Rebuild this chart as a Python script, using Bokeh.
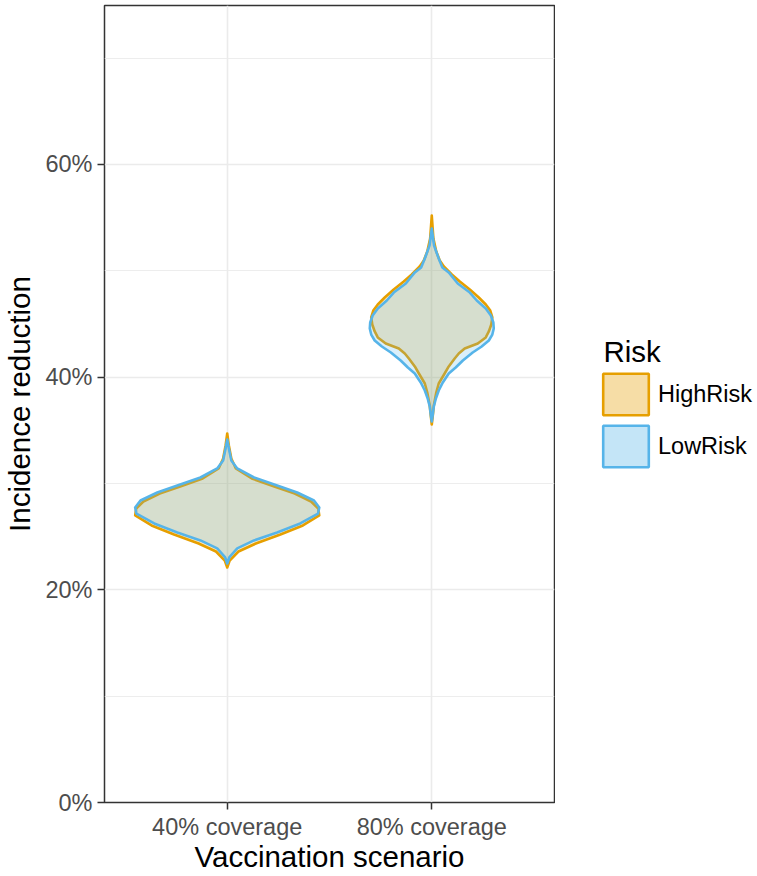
from bokeh.plotting import figure
from bokeh.layouts import row
from bokeh.models import (Range1d, FixedTicker, PrintfTickFormatter,
                          Legend, LegendItem, Label)
from bokeh.embed import file_html
from bokeh.resources import INLINE

# ---------------- data ----------------
SCENARIOS = ["40% coverage", "80% coverage"]
SCENARIO_POS = [1, 2]
RISKS = ["HighRisk", "LowRisk"]
RISK_COLORS = ["#E69F00", "#56B4E9"]

Y_TICKS = [0, 20, 40, 60]
Y_MINOR = [10, 30, 50, 70]

# violin outlines: incidence reduction (%) and
# half-width of the violin (in category units), from top tip to bottom tip
HR40_Y = [34.70, 33.57, 32.35, 31.41, 30.47, 29.71, 29.05, 28.30, 27.64, 26.99,
          26.05, 25.20, 24.35, 23.60, 22.75, 22.10]
HR40_W = [0.000, 0.008, 0.020, 0.042, 0.120, 0.230, 0.330, 0.410, 0.445, 0.450,
          0.370, 0.260, 0.140, 0.055, 0.012, 0.000]

LR40_Y = [34.13, 33.10, 32.16, 31.41, 30.56, 29.81, 29.15, 28.40, 27.74, 27.17,
          26.24, 25.39, 24.64, 23.89, 23.04, 22.47]
LR40_W = [0.000, 0.010, 0.020, 0.049, 0.131, 0.244, 0.342, 0.424, 0.450, 0.444,
          0.357, 0.244, 0.131, 0.049, 0.010, 0.000]

HR80_Y = [55.19, 53.03, 51.81, 50.96, 50.40, 49.65, 48.99, 48.24, 47.48, 46.83,
          46.26, 45.61, 44.95, 44.29, 43.73, 43.16, 42.69, 42.22, 41.75, 41.00,
          40.34, 39.40, 38.55, 37.33, 36.39, 35.54]
HR80_W = [0.000, 0.008, 0.022, 0.039, 0.059, 0.098, 0.137, 0.186, 0.230, 0.264,
          0.286, 0.296, 0.291, 0.279, 0.264, 0.225, 0.161, 0.132, 0.112, 0.083,
          0.063, 0.034, 0.022, 0.010, 0.005, 0.000]

LR80_Y = [53.97, 52.37, 51.15, 50.31, 49.84, 48.80, 47.95, 47.20, 46.45, 45.79,
          45.13, 44.57, 44.00, 43.44, 42.88, 42.31, 41.56, 40.90, 40.34, 39.50,
          38.74, 37.99, 37.24, 36.48, 35.83]
LR80_W = [0.000, 0.011, 0.034, 0.052, 0.083, 0.127, 0.186, 0.220, 0.264, 0.289,
          0.301, 0.303, 0.296, 0.279, 0.244, 0.200, 0.152, 0.117, 0.083, 0.054,
          0.034, 0.020, 0.010, 0.005, 0.000]

VIOLINS = {
    "HighRisk": [(HR40_Y, HR40_W), (HR80_Y, HR80_W)],
    "LowRisk": [(LR40_Y, LR40_W), (LR80_Y, LR80_W)],
}

FONT = "Liberation Sans"


def outline(pos, ys, ws):
    xs = [pos - w for w in ws] + [pos + w for w in reversed(ws)]
    yy = list(ys) + list(reversed(ys))
    return xs, yy


def violin_shapes(risk):
    xs_list, ys_list = [], []
    for pos, (ys, ws) in zip(SCENARIO_POS, VIOLINS[risk]):
        xs, yy = outline(pos, ys, ws)
        xs_list.append(xs)
        ys_list.append(yy)
    return xs_list, ys_list


# ---------------- main panel ----------------
p = figure(width=555, height=876, output_backend="svg", toolbar_location=None,
           x_range=Range1d(0.4, 2.6), y_range=Range1d(0, 74.94),
           min_border_left=104, min_border_right=1, min_border_top=5,
           min_border_bottom=74)
p.background_fill_color = "white"
p.border_fill_color = "white"
p.outline_line_color = "#333333"
p.outline_line_width = 1.5

p.xaxis.ticker = FixedTicker(ticks=SCENARIO_POS)
p.xaxis.major_label_overrides = dict(zip(SCENARIO_POS, SCENARIOS))
p.yaxis.ticker = FixedTicker(ticks=Y_TICKS, minor_ticks=Y_MINOR)
p.yaxis.formatter = PrintfTickFormatter(format="%d%%")
p.xaxis.axis_label = "Vaccination scenario"
p.yaxis.axis_label = "Incidence reduction"
for ax in (p.xaxis, p.yaxis):
    ax.axis_line_color = None
    ax.major_tick_line_color = "#333333"
    ax.major_tick_line_width = 1.5
    ax.major_tick_out = 7
    ax.major_tick_in = 0
    ax.minor_tick_line_color = None
    ax.major_label_text_font = FONT
    ax.major_label_text_font_size = "23.5px"
    ax.major_label_text_color = "#4D4D4D"
    ax.axis_label_text_font = FONT
    ax.axis_label_text_font_size = "29.5px"
    ax.axis_label_text_font_style = "normal"
    ax.axis_label_text_color = "black"
p.xaxis.major_label_standoff = 4
p.yaxis.major_label_standoff = 5
p.xaxis.axis_label_standoff = -3
p.yaxis.axis_label_standoff = 6

p.xgrid.grid_line_color = "#EBEBEB"
p.xgrid.grid_line_width = 1.6
p.ygrid.grid_line_color = "#EBEBEB"
p.ygrid.grid_line_width = 1.6
p.ygrid.minor_grid_line_color = "#EBEBEB"
p.ygrid.minor_grid_line_width = 0.9

for risk, color in zip(RISKS, RISK_COLORS):
    xs_list, ys_list = violin_shapes(risk)
    p.patches(xs_list, ys_list, fill_color=color, fill_alpha=0.22,
              line_color=color, line_width=2.6, line_join="round")

# ---------------- legend panel ----------------
# its frame lines up with the main panel (rows 5..802); ranges are pixel-like
lg = figure(width=202, height=876, output_backend="svg", toolbar_location=None,
            x_range=Range1d(0, 202), y_range=Range1d(802, 5),
            min_border_left=0, min_border_right=0,
            min_border_top=5, min_border_bottom=74)
lg.xaxis.visible = False
lg.yaxis.visible = False
lg.grid.visible = False
lg.outline_line_color = None
lg.background_fill_color = "white"
lg.border_fill_color = "white"
# key renderers live on a range that keeps them out of view
lg.extra_x_ranges = {"keys": Range1d(1000, 1001)}

items = []
for risk, color in zip(RISKS, RISK_COLORS):
    xs_list, ys_list = violin_shapes(risk)
    key = lg.patches(xs_list, ys_list, fill_color=color, fill_alpha=0.35,
                     line_color=color, line_width=2.6, x_range_name="keys")
    items.append(LegendItem(label=risk, renderers=[key]))

legend = Legend(items=items, location=(42, 330), padding=0, margin=0,
                spacing=0, glyph_width=57, glyph_height=52, label_standoff=4,
                label_text_font=FONT, label_text_font_size="23.5px",
                label_text_color="black", background_fill_alpha=0,
                border_line_color=None)
lg.add_layout(legend)
lg.add_layout(Label(x=48, y=351, text="Risk", text_font=FONT,
                    text_font_size="29.5px", text_color="black",
                    text_align="left", text_baseline="alphabetic"))

open("out.html", "w").write(file_html(row(p, lg), INLINE))
